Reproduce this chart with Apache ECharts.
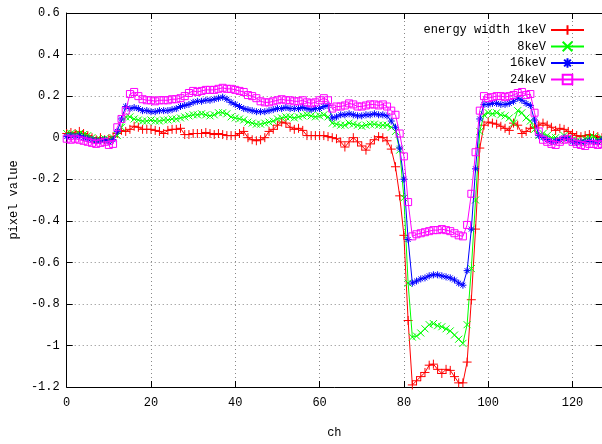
<!DOCTYPE html>
<html>
<head>
<meta charset="utf-8">
<script src="https://cdn.jsdelivr.net/npm/echarts@6/dist/echarts.min.js"></script>
<style>
  html, body { margin: 0; padding: 0; background: #fff; }
  #chart { width: 602px; height: 444px; }
</style>
</head>
<body>
<div id="chart"></div>
<script>
// Channel-wise pixel values for four energy-window widths
const seriesNames = ['energy width 1keV', '8keV', '16keV', '24keV'];
const xTicks = [0, 20, 40, 60, 80, 100, 120];
const yTicks = [-1.2, -1, -0.8, -0.6, -0.4, -0.2, 0, 0.2, 0.4, 0.6];

const width1keV = [
  0.02, 0.025, 0.02, 0.03, 0.02, 0.01, 0.0, -0.01, 0.0, -0.01, -0.005, 0.005,
  0.02, 0.035, 0.03, 0.04, 0.055,
  0.05, 0.04, 0.04, 0.04, 0.035, 0.03, 0.02, 0.035, 0.04, 0.04, 0.045,
  0.015, 0.015, 0.02, 0.02, 0.02, 0.025, 0.02, 0.015, 0.02, 0.015, 0.01, 0.01, 0.01,
  0.02, 0.03, 0.0, -0.01, -0.015, -0.01, 0.0, 0.03, 0.04, 0.06,
  0.075, 0.07, 0.05, 0.04, 0.045, 0.035, 0.01, 0.01, 0.01, 0.01,
  0.01, 0.005, 0.0, -0.005, -0.02, -0.045, -0.02, 0.0, -0.02, -0.04,
  -0.06, -0.03, -0.01, 0.005, 0.0, -0.015, -0.055, -0.14, -0.28, -0.47,
  -0.88, -1.19, -1.17, -1.15, -1.13, -1.095, -1.09, -1.115, -1.135, -1.115,
  -1.12, -1.15, -1.18, -1.18, -1.08, -0.78, -0.44, -0.05, 0.06, 0.075,
  0.07, 0.065, 0.055, 0.045, 0.035, 0.07, 0.06, 0.02, 0.03, 0.045,
  0.05, 0.06, 0.07, 0.06, 0.05, 0.035, 0.045, 0.04, 0.03, 0.02,
  0.01, 0.005, 0.01, 0.015, 0.01, 0.005, 0.0
];

const width8keV = [
  0.02, 0.02, 0.015, 0.02, 0.015, 0.01, 0.0, -0.01, -0.01, -0.005, -0.01, 0.0,
  0.01, 0.05, 0.10, 0.10, 0.09,
  0.085, 0.08, 0.08, 0.085, 0.08, 0.08, 0.085, 0.085, 0.09, 0.09, 0.095,
  0.10, 0.105, 0.11, 0.11, 0.115, 0.11, 0.105, 0.11, 0.12, 0.12, 0.115, 0.10, 0.095,
  0.09, 0.085, 0.075, 0.07, 0.065, 0.065, 0.07, 0.075, 0.08, 0.09,
  0.095, 0.10, 0.10, 0.095, 0.10, 0.105, 0.11, 0.105, 0.10, 0.105,
  0.11, 0.10, 0.07, 0.065, 0.06, 0.06, 0.07, 0.065, 0.06, 0.055,
  0.06, 0.065, 0.065, 0.06, 0.06, 0.06, 0.05, 0.03, -0.06, -0.29,
  -0.70, -0.96, -0.955, -0.94, -0.92, -0.90, -0.895, -0.905, -0.91, -0.92,
  -0.93, -0.95, -0.97, -0.99, -0.90, -0.63, -0.30, 0.03, 0.11, 0.12,
  0.115, 0.12, 0.11, 0.105, 0.095, 0.07, 0.13, 0.12, 0.095, 0.08,
  0.04, 0.01, 0.02, 0.01, 0.0, 0.0, -0.01, 0.01, 0.0, -0.01,
  -0.015, -0.02, -0.005, 0.0, 0.005, -0.01, 0.0
];

const width16keV = [
  0.005, 0.01, 0.005, 0.01, 0.0, -0.005, -0.01, -0.015, -0.015, -0.01, -0.02, -0.01,
  0.03, 0.09, 0.15, 0.14, 0.145,
  0.14, 0.13, 0.13, 0.125, 0.125, 0.13, 0.13, 0.13, 0.135, 0.14, 0.15,
  0.155, 0.16, 0.17, 0.175, 0.175, 0.18, 0.18, 0.185, 0.19, 0.195, 0.185, 0.17, 0.16,
  0.15, 0.14, 0.135, 0.13, 0.125, 0.125, 0.125, 0.13, 0.135, 0.14,
  0.14, 0.145, 0.14, 0.14, 0.14, 0.145, 0.14, 0.135, 0.14, 0.14,
  0.15, 0.155, 0.095, 0.10, 0.11, 0.11, 0.115, 0.11, 0.105, 0.105,
  0.11, 0.11, 0.115, 0.11, 0.11, 0.105, 0.08, 0.05, -0.05, -0.20,
  -0.49, -0.70, -0.69, -0.68, -0.675, -0.665, -0.66, -0.66, -0.665, -0.67,
  -0.675, -0.685, -0.70, -0.71, -0.64, -0.44, -0.15, 0.09, 0.16, 0.16,
  0.165, 0.165, 0.16, 0.16, 0.165, 0.175, 0.19, 0.18, 0.165, 0.155,
  0.085, 0.01, 0.0, -0.01, -0.02, -0.015, -0.01, 0.0, -0.005, -0.02,
  -0.025, -0.02, -0.02, -0.015, -0.02, -0.02, -0.01
];

const width24keV = [
  -0.005, -0.01, -0.005, -0.01, -0.015, -0.02, -0.025, -0.03, -0.025, -0.02, -0.035, -0.03,
  0.05, 0.09, 0.13, 0.21, 0.22,
  0.20, 0.185, 0.18, 0.18, 0.175, 0.18, 0.18, 0.18, 0.185, 0.185, 0.19,
  0.20, 0.215, 0.225, 0.22, 0.225, 0.23, 0.23, 0.23, 0.235, 0.24, 0.235, 0.235, 0.23,
  0.225, 0.22, 0.205, 0.20, 0.19, 0.175, 0.17, 0.17, 0.175, 0.18,
  0.185, 0.18, 0.18, 0.175, 0.175, 0.18, 0.17, 0.165, 0.17, 0.18,
  0.19, 0.18, 0.14, 0.15, 0.15, 0.155, 0.165, 0.16, 0.15, 0.15,
  0.155, 0.16, 0.16, 0.155, 0.16, 0.15, 0.13, 0.11, 0.02, -0.09,
  -0.31, -0.475, -0.465, -0.46, -0.455, -0.45, -0.445, -0.445, -0.44, -0.445,
  -0.45, -0.46, -0.47, -0.475, -0.42, -0.27, -0.07, 0.13, 0.20, 0.19,
  0.195, 0.20, 0.20, 0.195, 0.20, 0.205, 0.215, 0.22, 0.205, 0.21,
  0.12, 0.03, -0.01, -0.02, -0.03, -0.035, -0.02, -0.01, -0.005, -0.02,
  -0.03, -0.035, -0.04, -0.03, -0.03, -0.035, -0.03
];

const allValues = [width1keV, width8keV, width16keV, width24keV];
const colors = ['#ff0000', '#00ff00', '#0000ff', '#ff00ff'];

// point markers: plus, cross, star, open square
const markers = [
  'path://M0,5L10,5M5,0L5,10',
  'path://M0,0L10,10M10,0L0,10',
  'path://M0,5L10,5M5,0L5,10M1.5,1.5L8.5,8.5M8.5,1.5L1.5,8.5',
  'path://M0,0L10,0L10,10L0,10Z'
];
const markerSizes = [9, 7, 7, 7];

const FONT = 'Liberation Mono';

const series = allValues.map((vals, i) => ({
  name: seriesNames[i],
  type: 'line',
  data: vals.map((v, ch) => [ch, v]),
  symbol: markers[i],
  symbolSize: markerSizes[i],
  symbolKeepAspect: true,
  showAllSymbol: true,
  lineStyle: { color: colors[i], width: 1 },
  itemStyle: { color: 'rgba(0,0,0,0)', borderColor: colors[i], borderWidth: 1 },
  emphasis: { disabled: true },
  z: 2 + i
}));

const gridLine = { show: true, lineStyle: { color: '#888', width: 1, type: [1, 3] } };
const frameLine = { show: true, onZero: false, lineStyle: { color: '#000', width: 1 } };
const innerTick = { show: true, inside: true, length: 6, lineStyle: { color: '#000' } };

const chart = echarts.init(document.getElementById('chart'), null, { renderer: 'canvas' });
chart.setOption({
  animation: false,
  backgroundColor: '#fff',
  color: colors,
  grid: { left: 64, right: -2, top: 13, bottom: 51 },
  legend: {
    data: seriesNames,
    orient: 'vertical',
    right: 12,
    top: 19,
    align: 'right',
    itemWidth: 33,
    itemHeight: 12,
    itemGap: 4.5,
    textStyle: { fontFamily: FONT, fontSize: 12, color: '#000' }
  },
  xAxis: [
    {
      type: 'value', position: 'bottom', min: 0, max: 127, interval: 20,
      name: 'ch', nameLocation: 'middle', nameGap: 40,
      nameTextStyle: { fontFamily: FONT, fontSize: 12, color: '#000' },
      axisLine: frameLine, axisTick: innerTick, splitLine: gridLine,
      axisLabel: {
        margin: 10, fontFamily: FONT, fontSize: 12, color: '#000', showMaxLabel: false,
        formatter: v => (xTicks.indexOf(v) >= 0 ? String(v) : '')
      }
    },
    {
      type: 'value', position: 'top', min: 0, max: 127, interval: 20,
      axisLine: frameLine, axisTick: innerTick, splitLine: { show: false },
      axisLabel: { show: false }
    }
  ],
  yAxis: [
    {
      type: 'value', position: 'left', min: -1.2, max: 0.6, interval: 0.2,
      name: 'pixel value', nameLocation: 'middle', nameGap: 37,
      nameTextStyle: { fontFamily: FONT, fontSize: 12, color: '#000' },
      axisLine: frameLine, axisTick: innerTick, splitLine: gridLine,
      axisLabel: {
        margin: 7, fontFamily: FONT, fontSize: 12, color: '#000',
        formatter: v => {
          const r = Math.round(v * 10) / 10;
          return yTicks.indexOf(r) >= 0 ? String(r) : '';
        }
      }
    },
    {
      type: 'value', position: 'right', min: -1.2, max: 0.6, interval: 0.2,
      axisLine: frameLine, axisTick: innerTick, splitLine: { show: false },
      axisLabel: { show: false }
    }
  ],
  series: series
});
</script>
</body>
</html>
